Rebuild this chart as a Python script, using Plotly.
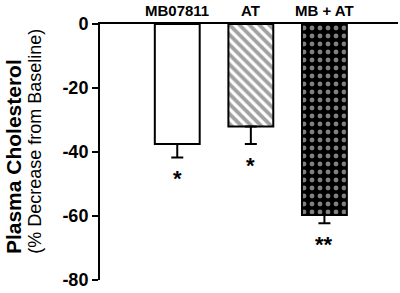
import plotly.graph_objects as go

categories = ["MB07811", "AT", "MB + AT"]
values = [-37.5, -32.0, -59.7]
errors = [4.2, 5.5, 2.6]
stars = ["*", "*", "**"]
y_ticks = [0, -20, -40, -60, -80]
y_ticktext = ["0", "-20", "-40", "-60", "-80"]

FONT = "Liberation Sans, Arial, sans-serif"
xpos = list(range(len(categories)))

fig = go.Figure()
fig.add_trace(go.Bar(
    x=xpos, y=values, width=0.61,
    marker=dict(
        color=["white", "white", "black"],
        line=dict(color="black", width=2),
        pattern=dict(shape=["", "\\", "."],
                     fgcolor=["black", "black", "white"],
                     bgcolor=["white", "white", "black"],
                     size=[7, 7, 8], solidity=[0.3, 0.55, 0.28]),
    ),
    error_y=dict(type="data", symmetric=False, array=[0, 0, 0],
                 arrayminus=errors, color="black", thickness=2, width=6),
))

for i, (v, e, s) in enumerate(zip(values, errors, stars)):
    fig.add_annotation(x=xpos[i], y=v - e, text="<b>" + s + "</b>", showarrow=False,
                       yanchor="middle", yshift=-21,
                       font=dict(family=FONT, size=22, color="black"))

for i, c in enumerate(categories):
    fig.add_annotation(x=xpos[i], y=1, yref="paper", text="<b>" + c + "</b>",
                       showarrow=False, yanchor="bottom", yshift=3,
                       font=dict(family=FONT, size=15, color="black"))

fig.add_annotation(x=0, xref="paper", y=0.48, yref="paper", textangle=-90,
                   text="<b>Plasma Cholesterol</b>", showarrow=False,
                   xanchor="center", yanchor="middle", xshift=-87,
                   font=dict(family=FONT, size=21, color="black"))
fig.add_annotation(x=0, xref="paper", y=0.54, yref="paper", textangle=-90,
                   text="(% Decrease from Baseline)", showarrow=False,
                   xanchor="center", yanchor="middle", xshift=-65,
                   font=dict(family=FONT, size=18, color="black"))

fig.update_layout(
    width=400, height=293,
    margin=dict(l=100, r=2, t=24, b=13),
    paper_bgcolor="white", plot_bgcolor="white",
    showlegend=False,
    xaxis=dict(range=[-1.05, 3.0], side="top", showline=True, linecolor="black",
               linewidth=2, showticklabels=False, ticks="", showgrid=False,
               zeroline=False, automargin=False),
    yaxis=dict(range=[-80, 0], tickvals=y_ticks, ticktext=y_ticktext,
               showline=True, linecolor="black", linewidth=2, ticks="outside",
               ticklen=6, tickwidth=2, tickcolor="black", showgrid=False,
               zeroline=False, automargin=False,
               tickfont=dict(family=FONT, size=18, color="black", weight="bold")),
)

fig.write_html("out.html", config={"displayModeBar": False},
               post_script="document.body.style.margin='0';document.body.style.overflow='hidden';")
